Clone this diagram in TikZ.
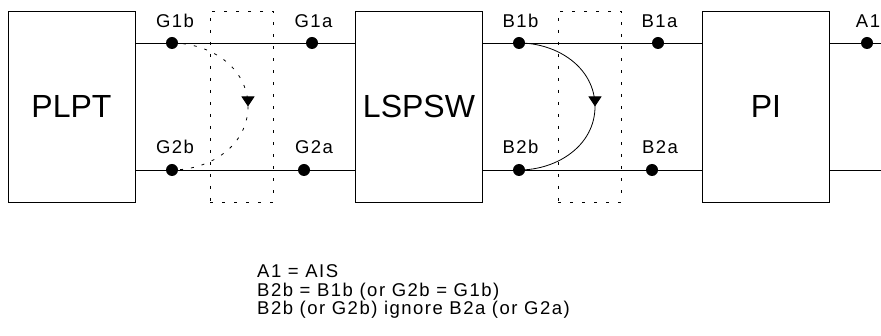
\documentclass[tikz,border=0pt]{standalone}
\usepackage{fontspec}
\setmainfont{Liberation Sans}
\newfontfamily\pinfont{Liberation Sans}[LetterSpace=8]
\usetikzlibrary{arrows.meta,decorations.markings}

\begin{document}
\begin{tikzpicture}[
    x=1pt, y=-1pt,
    block/.style={draw, rectangle, line width=0.8pt, minimum width=127pt, minimum height=191pt, inner sep=0pt, font=\fontsize{32}{38}\selectfont},
    gate/.style={draw, rectangle, line width=0.8pt, dash pattern=on 3pt off 9pt, minimum width=63pt, minimum height=191pt, inner sep=0pt},
    dot/.style={circle, fill, inner sep=0pt, minimum size=12pt},
    pin/.style={anchor=base, inner sep=0pt, font=\pinfont\fontsize{18.5}{18.5}\selectfont},
    wire/.style={line width=0.8pt},
    jump/.style={line width=0.8pt, postaction={decorate}, decoration={markings, mark=at position 0.5 with {\arrow{Triangle[width=13pt, length=10pt]}}}}
  ]
    \useasboundingbox (0,0) rectangle (881,336);

    % Blocks
    \node[block] at (71.5,106.5) (plpt)  {PLPT};
    \node[block] at (419,106.5)  (lspsw) {LSPSW};
    \node[block] at (766,106.5)  (pi)    {PI};

    % Dotted gates
    \node[gate] at (241.5,106.5) (ggate) {};
    \node[gate] at (589.5,106.5) (bgate) {};

    % Pins
    \node[dot] at (172,43)  (g1b) {};
    \node[dot] at (312,43)  (g1a) {};
    \node[dot] at (172,170) (g2b) {};
    \node[dot] at (304,170) (g2a) {};
    \node[dot] at (519,43)  (b1b) {};
    \node[dot] at (658,43)  (b1a) {};
    \node[dot] at (519,170) (b2b) {};
    \node[dot] at (652,170) (b2a) {};
    \node[dot] at (867,43)  (a1)  {};
    \coordinate (topend) at (881,43);
    \coordinate (botend) at (881,170);
    \coordinate (gturn) at (248,106.5);
    \coordinate (bturn) at (595,106.5);

    % Pin labels
    \node[pin] at (175,27.5)  (g1blabel) {G1b};
    \node[pin] at (313.5,27.5) (g1alabel) {G1a};
    \node[pin] at (175,154)   (g2blabel) {G2b};
    \node[pin] at (314,154)   (g2alabel) {G2a};
    \node[pin] at (520.5,27.5) (b1blabel) {B1b};
    \node[pin] at (659.5,27.5) (b1alabel) {B1a};
    \node[pin] at (520.5,154) (b2blabel) {B2b};
    \node[pin] at (660,154)   (b2alabel) {B2a};
    \node[pin] at (868,27.5)  (a1label)  {A1};

    % Wires
    \draw[wire] (plpt.east |- g1b) -- (lspsw.west |- g1a);
    \draw[wire] (plpt.east |- g2b) -- (lspsw.west |- g2a);
    \draw[wire] (lspsw.east |- b1b) -- (pi.west |- b1a);
    \draw[wire] (lspsw.east |- b2b) -- (pi.west |- b2a);
    \draw[wire] (pi.east |- a1) -- (topend);
    \draw[wire] (pi.east |- botend) -- (botend);

    % Jumpers
    \draw[jump, dash pattern=on 3pt off 8pt] (g1b.center) to[out=0, in=90] (gturn) to[out=-90, in=0] (g2b.center);
    \draw[jump] (b1b.center) to[out=0, in=90] (bturn) to[out=-90, in=0] (b2b.center);

    % Legend
    \node[anchor=north west, align=left, inner sep=0pt, font=\pinfont\fontsize{18.5}{18.5}\selectfont] at (257,264.5) (legend)
      {A1 = AIS\\B2b = B1b (or G2b = G1b)\\B2b (or G2b) ignore B2a (or G2a)};

  \end{tikzpicture}
\end{document}
